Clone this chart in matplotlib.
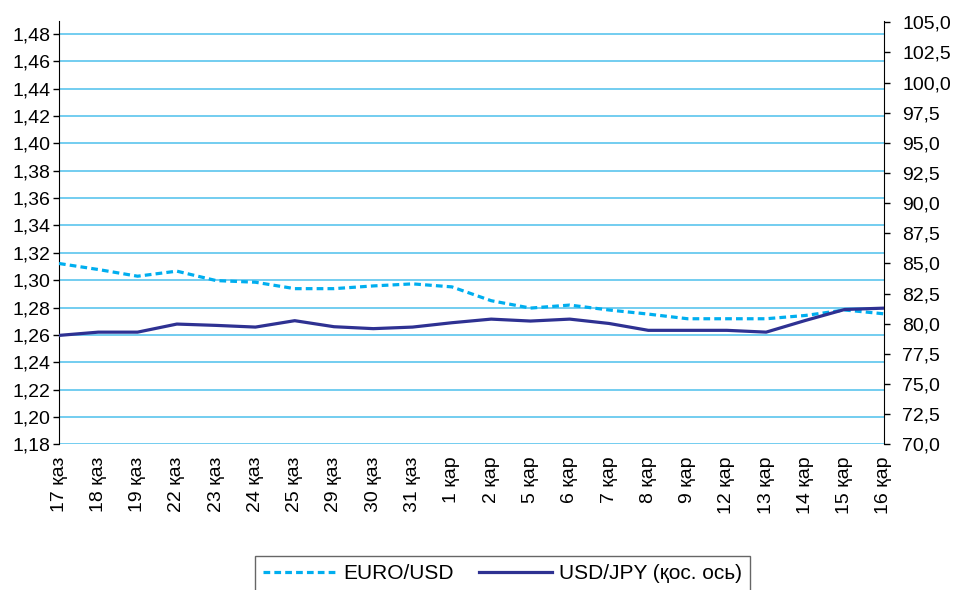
import matplotlib
matplotlib.use("Agg")
import matplotlib.pyplot as plt
from matplotlib.ticker import FuncFormatter, MultipleLocator
import numpy as np

plt.rcParams['font.family'] = ['Liberation Sans', 'DejaVu Sans']

dates = ["17 қаз", "18 қаз", "19 қаз", "22 қаз", "23 қаз", "24 қаз", "25 қаз",
         "29 қаз", "30 қаз", "31 қаз", "1 қар", "2 қар", "5 қар", "6 қар",
         "7 қар", "8 қар", "9 қар", "12 қар", "13 қар", "14 қар", "15 қар", "16 қар"]
euro_usd = [1.3122, 1.3078, 1.3029, 1.3066, 1.2997, 1.2985, 1.2938,
            1.2938, 1.2958, 1.2973, 1.2951, 1.2850, 1.2796, 1.2818,
            1.2782, 1.2752, 1.2718, 1.2718, 1.2718, 1.2742, 1.2782, 1.2754]
usd_jpy = [79.03, 79.30, 79.30, 79.97, 79.86, 79.72, 80.25,
           79.75, 79.59, 79.72, 80.08, 80.38, 80.22, 80.38,
           80.02, 79.45, 79.45, 79.45, 79.30, 80.27, 81.18, 81.29]
series_names = ["EURO/USD", "USD/JPY (қос. ось)"]

fig = plt.figure(figsize=(9.57, 5.90), dpi=100)
ax = fig.add_axes([59/957, 1 - 444.3/590, (884 - 59)/957, (444.3 - 21)/590])
ax2 = ax.twinx()

x = np.arange(len(dates))
grid_color = '#5BC5EE'
euro_color = '#00AEEF'
jpy_color = '#2E3192'

l1, = ax.plot(x, euro_usd, color=euro_color, lw=2.3, linestyle=(0, (2.1, 1.3)),
              dash_capstyle='butt', label=series_names[0], zorder=3)
l2, = ax2.plot(x, usd_jpy, color=jpy_color, lw=2.3, label=series_names[1], zorder=3)

ax.set_xlim(0, len(dates) - 1)
ax.set_ylim(1.18, 1.4895)
ax2.set_ylim(70, 105.1)

ax.yaxis.set_major_locator(MultipleLocator(0.02))
ax2.yaxis.set_major_locator(MultipleLocator(2.5))
ax.yaxis.set_major_formatter(FuncFormatter(lambda v, p: f"{v:.2f}".replace('.', ',')))
ax2.yaxis.set_major_formatter(FuncFormatter(lambda v, p: f"{v:.1f}".replace('.', ',')))

ax.grid(axis='y', color=grid_color, lw=1.2)
ax.set_axisbelow(True)

ax.set_xticks(x)
ax.set_xticklabels(dates, rotation=90, fontsize=14)
ax.tick_params(axis='x', length=0, pad=9)
ax.tick_params(axis='y', labelsize=14, length=4.5, width=1, pad=1.5, direction='out')
ax2.tick_params(axis='y', labelsize=14, length=4, width=1, pad=9, direction='out')

for a in (ax, ax2):
    a.spines['top'].set_visible(False)
    a.spines['bottom'].set_visible(False)
ax2.spines['left'].set_visible(False)
ax.spines['right'].set_visible(False)
ax.spines['left'].set_color('black')
ax2.spines['right'].set_color('black')

leg = fig.legend(handles=[l1, l2], labels=series_names, loc='upper center',
                 bbox_to_anchor=(0.525, 1 - 556/590), ncol=2, fontsize=15,
                 frameon=True, fancybox=False, handlelength=3.5,
                 handletextpad=0.35, columnspacing=1.2, borderpad=0.4,
                 borderaxespad=0)
leg.get_frame().set_edgecolor('#404040')
leg.get_frame().set_linewidth(1.0)

fig.savefig("out.png", dpi=100)
